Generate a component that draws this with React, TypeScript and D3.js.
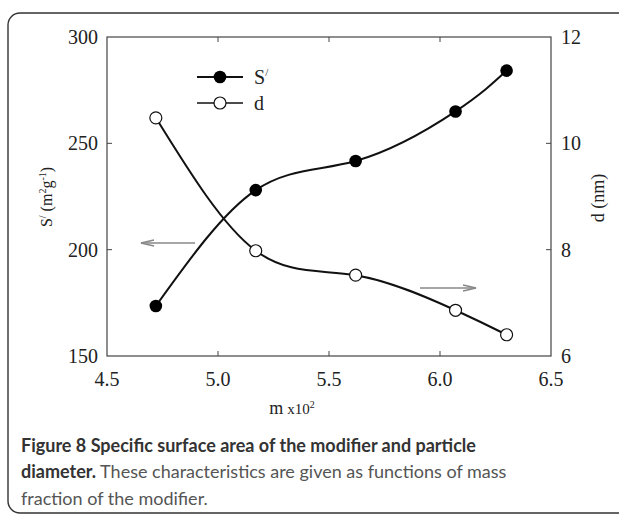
import React from "react";
import * as d3 from "d3";

const massFraction = [4.72, 5.17, 5.62, 6.07, 6.3];
const surfaceArea = [173.5, 228, 241.7, 265, 284.2];
const diameter = [10.48, 7.98, 7.52, 6.86, 6.4];
const xTicks = [4.5, 5.0, 5.5, 6.0, 6.5];
const leftTicks = [150, 200, 250, 300];
const rightTicks = [6, 8, 10, 12];

const W = 619;
const H = 516;
const L = 107, R = 551, T = 37, B = 356;

export default function App() {
  const x = d3.scaleLinear().domain([4.5, 6.5]).range([L, R]);
  const yL = d3.scaleLinear().domain([150, 300]).range([B, T]);
  const yR = d3.scaleLinear().domain([6, 12]).range([B, T]);

  const sPts: [number, number][] = massFraction.map((m, i) => [x(m), yL(surfaceArea[i])]);
  const dPts: [number, number][] = massFraction.map((m, i) => [x(m), yR(diameter[i])]);
  const line = d3.line().curve(d3.curveNatural);

  const serif = "'Liberation Serif', 'Times New Roman', serif";
  const sans = "Lato, 'Open Sans', sans-serif";
  const tickLen = 5;

  return (
    <svg width={W} height={H} style={{ position: "absolute", left: 0, top: 0 }}>
      <rect x={0} y={0} width={W} height={H} fill="#fff" />
      <rect x={8} y={13} width={W + 40} height={500} rx={12} ry={12} fill="none" stroke="#333" strokeWidth={1.4} />

      <rect x={L} y={T} width={R - L} height={B - T} fill="none" stroke="#444" strokeWidth={1.2} />

      {xTicks.map((t, i) => (
        <g key={"x" + i}>
          {i > 0 && i < xTicks.length - 1 && (
            <>
              <line x1={x(t)} x2={x(t)} y1={B} y2={B - tickLen} stroke="#444" strokeWidth={1} />
              <line x1={x(t)} x2={x(t)} y1={T} y2={T + tickLen} stroke="#444" strokeWidth={1} />
            </>
          )}
          <text x={x(t)} y={386} textAnchor="middle" fontFamily={serif} fontSize={20} fill="#222">
            {t.toFixed(1)}
          </text>
        </g>
      ))}

      {leftTicks.map((t, i) => (
        <g key={"l" + i}>
          {i > 0 && i < leftTicks.length - 1 && (
            <line x1={L} x2={L + tickLen} y1={yL(t)} y2={yL(t)} stroke="#444" strokeWidth={1} />
          )}
          <text x={98} y={yL(t) + 7} textAnchor="end" fontFamily={serif} fontSize={20} fill="#222">
            {t}
          </text>
        </g>
      ))}

      {rightTicks.map((t, i) => (
        <g key={"r" + i}>
          {i > 0 && i < rightTicks.length - 1 && (
            <line x1={R} x2={R - tickLen} y1={yR(t)} y2={yR(t)} stroke="#444" strokeWidth={1} />
          )}
          <text x={561} y={yR(t) + 7} textAnchor="start" fontFamily={serif} fontSize={20} fill="#222">
            {t}
          </text>
        </g>
      ))}

      <text transform="translate(52,197) rotate(-90)" textAnchor="middle" fontFamily={serif} fontSize={16} fill="#222">
        S<tspan dy={-6} fontSize={10}>/</tspan>
        <tspan dy={6}> (m</tspan>
        <tspan dy={-6} fontSize={10}>2</tspan>
        <tspan dy={6}>g</tspan>
        <tspan dy={-6} fontSize={10}>-1</tspan>
        <tspan dy={6}>)</tspan>
      </text>
      <text transform="translate(604,198) rotate(-90)" textAnchor="middle" fontFamily={serif} fontSize={18} fill="#222">
        d (nm)
      </text>
      <text x={292} y={414} textAnchor="middle" fontFamily={serif} fontSize={18} fill="#222">
        m<tspan fontSize={15}> x10</tspan>
        <tspan dy={-6} fontSize={10}>2</tspan>
      </text>

      <g stroke="#888" strokeWidth={1.5} fill="none">
        <line x1={195} x2={141} y1={243} y2={243} />
        <polyline points="154,240 141,243 154,246" />
        <line x1={420} x2={476} y1={288} y2={288} />
        <polyline points="463,285 476,288 463,291" />
      </g>

      <path d={line(sPts) || ""} fill="none" stroke="#111" strokeWidth={2} />
      <path d={line(dPts) || ""} fill="none" stroke="#111" strokeWidth={2} />

      {sPts.map((p, i) => (
        <circle key={"s" + i} cx={p[0]} cy={p[1]} r={6.3} fill="#000" />
      ))}
      {dPts.map((p, i) => (
        <circle key={"d" + i} cx={p[0]} cy={p[1]} r={6} fill="#fff" stroke="#111" strokeWidth={1.2} />
      ))}

      <line x1={197} x2={243} y1={77} y2={77} stroke="#111" strokeWidth={2} />
      <circle cx={220} cy={77} r={6.3} fill="#000" />
      <text x={254} y={84} fontFamily={serif} fontSize={20} fill="#222">
        S<tspan dy={-8} fontSize={11}>/</tspan>
      </text>
      <line x1={197} x2={243} y1={103} y2={103} stroke="#111" strokeWidth={1.6} />
      <circle cx={220} cy={103} r={6} fill="#fff" stroke="#111" strokeWidth={1.2} />
      <text x={254} y={110} fontFamily={serif} fontSize={20} fill="#222">d</text>

      <text x={21} y={452} fontFamily={sans} fontSize={18} fill="#333" fontWeight={700}>
        Figure 8 Specific surface area of the modifier and particle
      </text>
      <text x={21} y={478} fontFamily={sans} fontSize={18} fill="#555">
        <tspan fontWeight={700} fill="#333">diameter.</tspan> These characteristics are given as functions of mass
      </text>
      <text x={21} y={505} fontFamily={sans} fontSize={18} fill="#555">
        fraction of the modifier.
      </text>
    </svg>
  );
}
